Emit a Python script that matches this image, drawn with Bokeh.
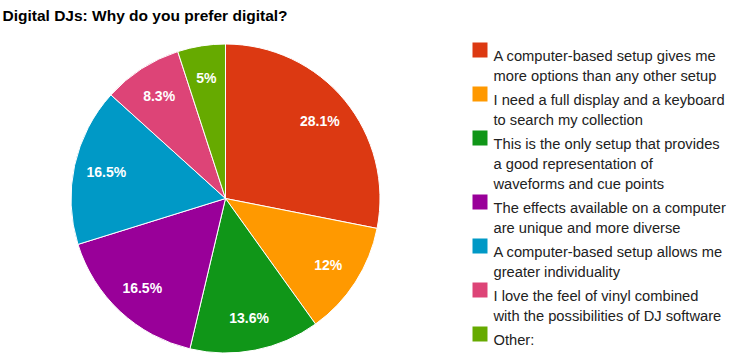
import numpy as np
from bokeh.plotting import figure
from bokeh.models import Range1d, ColumnDataSource
from bokeh.core.properties import value
from bokeh.embed import file_html
from bokeh.resources import INLINE

title = "Digital DJs: Why do you prefer digital?"
categories = [
    "A computer-based setup gives me\nmore options than any other setup",
    "I need a full display and a keyboard\nto search my collection",
    "This is the only setup that provides\na good representation of\nwaveforms and cue points",
    "The effects available on a computer\nare unique and more diverse",
    "A computer-based setup allows me\ngreater individuality",
    "I love the feel of vinyl combined\nwith the possibilities of DJ software",
    "Other:",
]
shares = [28.1, 12.0, 13.6, 16.5, 16.5, 8.3, 5.0]
pct_labels = ["28.1%", "12%", "13.6%", "16.5%", "16.5%", "8.3%", "5%"]
colors = ["#DC3912", "#FF9900", "#109618", "#990099", "#0099C6", "#DD4477", "#66AA00"]

W, H = 729, 356
FONT = "Liberation Sans"

def px(x):
    return x

def py(y):
    return H - y

p = figure(width=W, height=H, x_range=Range1d(0, W), y_range=Range1d(0, H),
           output_backend="svg", toolbar_location=None, min_border=0)
p.axis.visible = False
p.grid.visible = False
p.outline_line_color = None
p.background_fill_color = "white"
p.border_fill_color = "white"

# pie
cx, cy, R = px(225), py(198), 154.5
frac = np.array(shares) / sum(shares)
c1 = np.cumsum(frac)
c0 = c1 - frac
start = np.pi / 2 - 2 * np.pi * c0
end = np.pi / 2 - 2 * np.pi * c1
mid = (start + end) / 2
lr = 0.79 * R
src = ColumnDataSource(dict(start=start, end=end, color=colors,
                            lx=cx + lr * np.cos(mid), ly=cy + lr * np.sin(mid),
                            lab=pct_labels))
p.wedge(x=cx, y=cy, radius=R, start_angle="start", end_angle="end", direction="clock",
        fill_color="color", line_color="white", line_width=1, source=src)
p.text(x="lx", y="ly", text="lab", source=src, text_color="white",
       text_font=value(FONT), text_font_size="14px", text_font_style="bold",
       text_align="center", text_baseline="middle")

# title
p.text(x=[px(2)], y=[py(15)], text=[title], text_font=value(FONT),
       text_font_size="15.5px", text_font_style="bold", text_color="#000000",
       text_baseline="alphabetic")

# legend
lx, ly, ly2 = [], [], []
sq_x, sq_y = [], []
line_idx = 0
for i, cat in enumerate(categories):
    lines = cat.split("\n")
    base = 55 + 20 * line_idx + 4 * i
    sq_x.append(px(479.5))
    sq_y.append(py(base - 5.5))
    for j, ln in enumerate(lines):
        lx.append(px(493))
        ly.append(py(base + 20 * j))
        ly2.append(ln)
    line_idx += len(lines)
p.rect(x=sq_x, y=sq_y, width=15, height=15, fill_color=colors, line_color=None)
p.text(x=lx, y=ly, text=ly2, text_font=value(FONT), text_font_size="14.7px",
       text_color="#222222", text_baseline="alphabetic")

open("out.html", "w").write(file_html(p, INLINE))
